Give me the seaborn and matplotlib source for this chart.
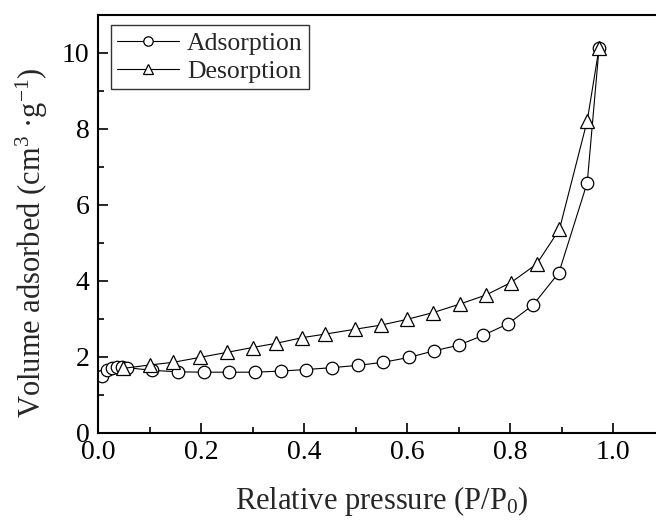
import numpy as np
import pandas as pd
import matplotlib
matplotlib.use("Agg")
import matplotlib.pyplot as plt
import seaborn as sns

ads_x = [0.007, 0.017, 0.027, 0.037, 0.046, 0.056, 0.104, 0.155, 0.205, 0.255, 0.305,
         0.355, 0.404, 0.455, 0.504, 0.554, 0.604, 0.652, 0.700, 0.748, 0.797, 0.845,
         0.895, 0.950, 0.973]
ads_y = [1.50, 1.66, 1.71, 1.73, 1.74, 1.72, 1.65, 1.61, 1.60, 1.60, 1.60, 1.63, 1.67,
         1.72, 1.78, 1.86, 1.99, 2.16, 2.31, 2.57, 2.88, 3.37, 4.22, 6.59, 10.14]
des_x = [0.973, 0.950, 0.896, 0.852, 0.802, 0.753, 0.702, 0.651, 0.600, 0.550, 0.499,
         0.440, 0.397, 0.346, 0.300, 0.250, 0.198, 0.146, 0.100, 0.049]
des_y = [10.14, 8.22, 5.36, 4.45, 3.96, 3.63, 3.39, 3.17, 2.99, 2.84, 2.73, 2.60, 2.51,
         2.36, 2.25, 2.12, 1.99, 1.86, 1.79, 1.70]

sns.set_style("ticks")
plt.rcParams['font.family'] = ['Liberation Serif', 'DejaVu Serif']
plt.rcParams['mathtext.fontset'] = 'custom'
plt.rcParams['mathtext.rm'] = 'Liberation Serif'
plt.rcParams['mathtext.it'] = 'Liberation Serif:italic'
plt.rcParams['mathtext.default'] = 'regular'

fig = plt.figure(figsize=(6.56, 5.21), dpi=100)
ax = fig.add_axes([98/656, 88/521, 1.1*515/656, 418/521])

ads = pd.DataFrame({"x": ads_x, "y": ads_y})
des = pd.DataFrame({"x": des_x, "y": des_y})
sns.lineplot(data=ads, x="x", y="y", sort=False, ax=ax, color="black", lw=0.8,
             marker="o", markersize=9, markerfacecolor="white", markeredgecolor="black",
             markeredgewidth=0.9, label="Adsorption")
sns.lineplot(data=des, x="x", y="y", sort=False, ax=ax, color="black", lw=0.8,
             marker="^", markersize=10, markerfacecolor="white", markeredgecolor="black",
             markeredgewidth=0.9, label="Desorption")

ax.set_xlim(0, 1.1)
ax.set_ylim(0, 11)
ax.set_xticks([0, 0.2, 0.4, 0.6, 0.8, 1.0])
ax.set_xticklabels(["0.0", "0.2", "0.4", "0.6", "0.8", "1.0"])
ax.set_yticks([0, 2, 4, 6, 8, 10])
ax.set_xticks(np.arange(0.1, 1.1, 0.2), minor=True)
ax.set_yticks([1, 3, 5, 7, 9], minor=True)
ax.tick_params(which="both", direction="in", width=1.2, labelsize=20, colors="black")
ax.tick_params(which="major", length=7)
ax.tick_params(which="minor", length=4)
ax.tick_params(axis="x", pad=5)
ax.tick_params(axis="y", pad=6)
for s in ax.spines.values():
    s.set_linewidth(1.5)
    s.set_color("black")

ax.set_xlabel("Relative pressure (P/P$_0$)", fontsize=22, labelpad=14)
ax.set_ylabel("Volume adsorbed (cm$^3$ ·g$^{-1}$)", fontsize=22)
ax.yaxis.set_label_coords(-0.085, 0.455)

leg = ax.legend(loc="upper left", bbox_to_anchor=(0.023, 0.975), fontsize=18.5, frameon=True,
                fancybox=False, edgecolor="black", handlelength=2.4, borderpad=0.25,
                labelspacing=0.2, handletextpad=0.3, borderaxespad=0, markerscale=0.75)
leg.get_frame().set_linewidth(1.0)

fig.savefig("out.png", dpi=100)
